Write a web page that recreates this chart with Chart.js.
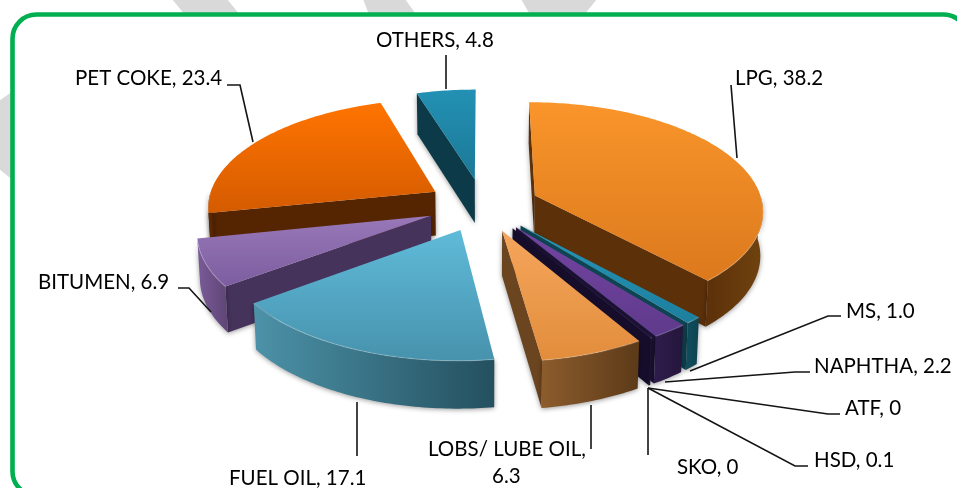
<!DOCTYPE html>
<html>
<head>
<meta charset="utf-8">
<style>
    html, body { margin: 0; padding: 0; background: #fff; }
    #box { width: 957px; height: 488px; }
</style>
<script src="https://cdn.jsdelivr.net/npm/chart.js@4/dist/chart.umd.min.js"></script>
</head>
<body>
<div id="box"><canvas id="pie" width="957" height="488"></canvas></div>
<script>
// ── Data ───────────────────────────────────────────
const categories = ['LPG', 'MS', 'NAPHTHA', 'ATF', 'HSD', 'SKO', 'LOBS/ LUBE OIL', 'FUEL OIL', 'BITUMEN', 'PET COKE', 'OTHERS'];
const shares = [38.2, 1.0, 2.2, 0, 0.1, 0, 6.3, 17.1, 6.9, 23.4, 4.8];
const shareText = ['38.2', '1.0', '2.2', '0', '0.1', '0', '6.3', '17.1', '6.9', '23.4', '4.8'];

// top face (light, dark), outer wall (left, right), cut wall
const topLight = ['#f9952a', '#2596b8', '#7444a2', '#7444a2', '#2c1a4a', '#2c1a4a', '#f5a65c', '#5fbbd9', '#9878b8', '#ff7400', '#2391b4'];
const topDark = ['#dc791d', '#1d7f9e', '#5f3a8c', '#5f3a8c', '#2c1a4a', '#2c1a4a', '#e28d3c', '#4792ad', '#7c5d9f', '#d45b00', '#1c7896'];
const wallLeft = ['#5c3009', '#114e5e', '#2f1c4c', '#2f1c4c', '#1c1233', '#1c1233', '#8c5c2c', '#4c92a8', '#7a5b98', '#5e2a00', '#10404f'];
const wallRight = ['#70430f', '#0e4351', '#24163c', '#24163c', '#1c1233', '#1c1233', '#5c3a18', '#24505f', '#5e4575', '#552400', '#0b3341'];
const cutWall = ['#5c3009', '#0e4351', '#1c1233', '#1c1233', '#160d2b', '#160d2b', '#6b4420', '#24505f', '#46335c', '#552400', '#0d3a48'];

// ── Callouts ───────────────────────────────────────
const calloutSpots = {
    'OTHERS': { x: 376, y: 47, line: [[446, 55], [446, 89]] },
    'PET COKE': { x: 75, y: 85, line: [[227, 85], [240, 85], [253, 142]] },
    'LPG': { x: 735, y: 85, line: [[731, 85], [737, 158]] },
    'MS': { x: 846, y: 318, line: [[841, 316], [828, 316], [690, 371]] },
    'NAPHTHA': { x: 814, y: 373, line: [[810, 372], [795, 372], [665, 382]] },
    'ATF': { x: 845, y: 415, line: [[840, 414], [828, 414], [648, 388]] },
    'HSD': { x: 814, y: 467, line: [[808, 466], [795, 466], [648, 388]] },
    'SKO': { x: 677, y: 474, line: [[648, 455], [648, 388]] },
    'LOBS/ LUBE OIL': { x: 428, y: 456, line: [[591, 449], [591, 405]], wrapX: 492 },
    'FUEL OIL': { x: 229, y: 485, line: [[357, 402], [357, 456]] },
    'BITUMEN': { x: 38, y: 289, line: [[178, 288], [189, 288], [211, 312]] },
};

// ── View: tilted camera over the flat Chart.js pie ─
const view = { stretchX: 1.25, stretchY: 0.588, persp: 0.126, depth: 44, shrink: 0.99 };

function project(el, angle, r, down) {
    const mid = (el.startAngle + el.endAngle) / 2;
    const off = el.options.offset;
    const dx = off * Math.cos(mid) + r * Math.cos(angle);
    const dy = off * Math.sin(mid) + r * Math.sin(angle);
    const w = 1 / (1 - view.persp * dy / el.outerRadius);
    const squeeze = down ? view.shrink : 1;
    return {
        x: el.x + dx * view.stretchX * w * squeeze,
        y: el.y + dy * view.stretchY * w + (down ? view.depth * Math.sqrt(w) : 0)
    };
}

function rim(el, from, to, down) {
    const pts = [];
    const steps = Math.max(2, Math.ceil((to - from) * 60));
    for (let i = 0; i <= steps; i++) {
        pts.push(project(el, from + (to - from) * i / steps, el.outerRadius, down));
    }
    return pts;
}

function trace(ctx, pts) {
    ctx.beginPath();
    pts.forEach((p, i) => (i ? ctx.lineTo(p.x, p.y) : ctx.moveTo(p.x, p.y)));
    ctx.closePath();
}

function cutFace(ctx, el, angle, color) {
    const a = project(el, angle, 0, false);
    const b = project(el, angle, el.outerRadius, false);
    const c = project(el, angle, el.outerRadius, true);
    const d = project(el, angle, 0, true);
    trace(ctx, [a, b, c, d]);
    ctx.fillStyle = color;
    ctx.fill();
}

function drawSlice(ctx, el, i) {
    const a0 = el.startAngle;
    const a1 = el.endAngle;
    const top = [project(el, a0, 0, false)].concat(rim(el, a0, a1, false));
    const ys = top.map(p => p.y);

    ctx.save();
    ctx.shadowColor = 'rgba(0,0,0,0.4)';
    ctx.shadowBlur = 5;
    ctx.shadowOffsetY = 1;

    if (-Math.cos(a0) > -0.02) cutFace(ctx, el, a0, cutWall[i]);
    if (Math.cos(a1) > 0) cutFace(ctx, el, a1, cutWall[i]);

    const lo = Math.max(a0, 0);
    const hi = Math.min(a1, Math.PI);
    if (lo < hi) {
        const front = rim(el, lo, hi, false).concat(rim(el, lo, hi, true).reverse());
        const fx = front.map(p => p.x);
        const grad = ctx.createLinearGradient(Math.min(...fx), 0, Math.max(...fx), 0);
        grad.addColorStop(0, wallLeft[i]);
        grad.addColorStop(1, wallRight[i]);
        trace(ctx, front);
        ctx.fillStyle = grad;
        ctx.fill();
    }
    ctx.restore();

    const grad = ctx.createLinearGradient(0, Math.min(...ys), 0, Math.max(...ys));
    grad.addColorStop(0, topLight[i]);
    grad.addColorStop(1, topDark[i]);
    trace(ctx, top);
    ctx.fillStyle = grad;
    ctx.fill();

    // thin bevel along the front of the rim
    if (lo < hi) {
        const edge = rim(el, lo, hi, false);
        ctx.beginPath();
        edge.forEach((p, k) => (k ? ctx.lineTo(p.x, p.y) : ctx.moveTo(p.x, p.y)));
        ctx.strokeStyle = 'rgba(255,255,255,0.22)';
        ctx.lineWidth = 1.2;
        ctx.stroke();
    }
}

const backdrop = {
    id: 'backdrop',
    beforeDraw(chart) {
        const ctx = chart.ctx;
        ctx.save();
        ctx.fillStyle = '#fff';
        ctx.fillRect(0, 0, chart.width, chart.height);
        // watermark bands behind the frame
        ctx.fillStyle = '#d9d9d9';
        const bands = [
            [[172, -1], [227, -1], [244, 20], [189, 20]],
            [[363, -1], [405, -1], [420, 20], [371, 20]],
            [[521, -1], [597, -1], [580, 20], [533, 20]],
            [[-1, 101], [20, 86], [20, 186], [-1, 169]],
        ];
        bands.forEach(b => {
            ctx.beginPath();
            b.forEach((p, k) => (k ? ctx.lineTo(p[0], p[1]) : ctx.moveTo(p[0], p[1])));
            ctx.closePath();
            ctx.fill();
        });
        // green rounded frame
        ctx.beginPath();
        ctx.roundRect(12.5, 14.5, 955, 481, 24);
        ctx.fillStyle = '#fff';
        ctx.fill();
        ctx.strokeStyle = '#00b050';
        ctx.lineWidth = 4.6;
        ctx.stroke();
        ctx.restore();
    }
};

const pie3d = {
    id: 'pie3d',
    beforeDatasetDraw(chart, args) {
        const ctx = chart.ctx;
        const arcs = args.meta.data
            .map((el, i) => ({ el, i }))
            .filter(o => o.el.endAngle > o.el.startAngle);
        arcs.sort((p, q) =>
            Math.sin((p.el.startAngle + p.el.endAngle) / 2) - Math.sin((q.el.startAngle + q.el.endAngle) / 2));
        arcs.forEach(o => drawSlice(ctx, o.el, o.i));
        return false;
    }
};

const callout = {
    id: 'callout',
    afterDraw(chart) {
        const ctx = chart.ctx;
        ctx.save();
        ctx.strokeStyle = '#141414';
        ctx.lineWidth = 1.6;
        ctx.fillStyle = '#000';
        ctx.font = "20.5px Lato, 'Open Sans', sans-serif";
        ctx.textBaseline = 'alphabetic';
        categories.forEach((name, i) => {
            const c = calloutSpots[name];
            ctx.beginPath();
            c.line.forEach((p, k) => (k ? ctx.lineTo(p[0], p[1]) : ctx.moveTo(p[0], p[1])));
            ctx.stroke();
            if (c.wrapX) {
                ctx.fillText(name + ',', c.x, c.y);
                ctx.fillText(shareText[i], c.wrapX, c.y + 27);
            } else {
                ctx.fillText(name + ', ' + shareText[i], c.x, c.y);
            }
        });
        ctx.restore();
    }
};

new Chart(document.getElementById('pie'), {
    type: 'pie',
    data: {
        labels: categories,
        datasets: [{
            data: shares,
            backgroundColor: topLight,
            borderWidth: 0,
            offset: 45,
        }]
    },
    options: {
        responsive: false,
        animation: false,
        layout: { padding: { left: 9, bottom: 78 } },
        plugins: {
            legend: { display: false },
            tooltip: { enabled: false }
        }
    },
    plugins: [backdrop, pie3d, callout]
});
</script>
</body>
</html>
